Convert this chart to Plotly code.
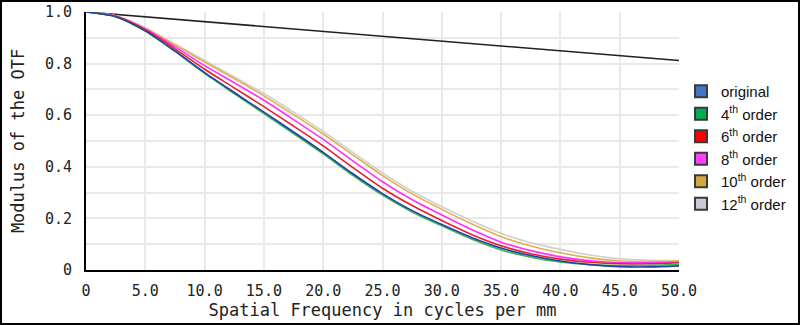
import plotly.graph_objects as go

# ---- data ----
freq = [0, 2.5, 5, 7.5, 10, 12.5, 15, 17.5, 20, 22.5, 25, 27.5, 30, 32.5, 35, 37.5, 40, 42.5, 45, 47.5, 50]
original = [1.0, 0.982, 0.927, 0.849, 0.765, 0.688, 0.612, 0.535, 0.456, 0.373, 0.296, 0.230, 0.176, 0.126, 0.085, 0.056, 0.035, 0.021, 0.013, 0.012, 0.016]
order4 = [1.0, 0.982, 0.926, 0.847, 0.762, 0.684, 0.606, 0.529, 0.450, 0.367, 0.290, 0.225, 0.171, 0.120, 0.078, 0.050, 0.031, 0.021, 0.017, 0.018, 0.022]
order6 = [1.0, 0.983, 0.931, 0.857, 0.778, 0.706, 0.633, 0.558, 0.481, 0.397, 0.317, 0.250, 0.192, 0.138, 0.094, 0.063, 0.042, 0.030, 0.024, 0.024, 0.028]
order8 = [1.0, 0.984, 0.934, 0.865, 0.792, 0.726, 0.658, 0.583, 0.506, 0.423, 0.342, 0.272, 0.213, 0.157, 0.108, 0.075, 0.051, 0.036, 0.028, 0.028, 0.030]
order10 = [1.0, 0.985, 0.937, 0.872, 0.806, 0.742, 0.675, 0.602, 0.527, 0.446, 0.366, 0.295, 0.235, 0.179, 0.129, 0.093, 0.067, 0.047, 0.035, 0.033, 0.034]
order12 = [1.0, 0.985, 0.938, 0.876, 0.812, 0.749, 0.684, 0.612, 0.537, 0.456, 0.376, 0.305, 0.245, 0.191, 0.142, 0.106, 0.080, 0.058, 0.043, 0.038, 0.037]
diff_freq = [0, 25, 50]
diff_limit = [1.0, 0.905, 0.812]

series_names = ["original", "4<sup>th</sup> order", "6<sup>th</sup> order",
                "8<sup>th</sup> order", "10<sup>th</sup> order", "12<sup>th</sup> order"]
series_values = [original, order4, order6, order8, order10, order12]
line_colors = ["#1f3fa8", "#3cb44b", "#e8202a", "#ff30ff", "#e2b04a", "#cfcfcf"]
legend_colors = ["#4472c4", "#00b050", "#ff0000", "#ff40ff", "#d4a83a", "#c8ccd4"]

x_tickvals = [0, 5, 10, 15, 20, 25, 30, 35, 40, 45, 50]
x_ticktext = ["0", "5.0", "10.0", "15.0", "20.0", "25.0", "30.0", "35.0", "40.0", "45.0", "50.0"]
y_tickvals = [0, 0.2, 0.4, 0.6, 0.8, 1.0]
y_ticktext = ["0", "0.2", "0.4", "0.6", "0.8", "1.0"]
y_minor = [0.1, 0.3, 0.5, 0.7, 0.9]

# ---- figure ----
W, H = 800, 325
ML, MR, MT, MB = 86, 121, 12, 55

fig = go.Figure()

fig.add_trace(go.Scatter(x=diff_freq, y=diff_limit, mode="lines",
                         line=dict(color="#202020", width=1.6),
                         showlegend=False, hoverinfo="skip"))

order_draw = [5, 4, 3, 2, 1, 0]
for i in order_draw:
    fig.add_trace(go.Scatter(x=freq, y=series_values[i], mode="lines",
                             line=dict(color=line_colors[i], width=1.6, shape="spline", smoothing=0.7),
                             showlegend=False))

for name, c in zip(series_names, legend_colors):
    fig.add_trace(go.Scatter(x=[None], y=[None], mode="markers", name=name,
                             marker=dict(symbol="square", size=10, color=c,
                                         line=dict(color="#3a3a3a", width=1))))

mono = "DejaVu Sans Mono"
pw = W - ML - MR
ph = H - MT - MB

fig.update_layout(
    width=W, height=H,
    margin=dict(l=ML, r=MR, t=MT, b=MB, autoexpand=False),
    paper_bgcolor="white", plot_bgcolor="white",
    xaxis=dict(range=[0, 50], tickvals=x_tickvals, ticktext=x_ticktext,
               showgrid=True, gridcolor="#e9e9e9", gridwidth=2,
               showline=True, linecolor="black", linewidth=2,
               ticks="outside", ticklen=6, tickcolor="rgba(0,0,0,0)",
               tickfont=dict(family=mono, size=15, color="#222"),
               title=dict(text="Spatial Frequency in cycles per mm",
                          font=dict(family=mono, size=17, color="#222"), standoff=3),
               zeroline=False),
    yaxis=dict(range=[0, 1.0], tickvals=y_tickvals, ticktext=y_ticktext,
               showgrid=True, gridcolor="#e9e9e9", gridwidth=2,
               minor=dict(tickvals=y_minor, showgrid=True,
                          gridcolor="#e9e9e9", gridwidth=2),
               showline=True, linecolor="black", linewidth=2,
               ticks="outside", ticklen=9, tickcolor="rgba(0,0,0,0)",
               tickfont=dict(family=mono, size=15, color="#222"),
               title=dict(text="Modulus of the OTF",
                          font=dict(family=mono, size=17, color="#222"), standoff=16),
               zeroline=False),
    legend=dict(x=(681 - ML) / pw, y=(270 - 75) / ph, xanchor="left", yanchor="top",
                font=dict(family="Liberation Sans", size=15, color="#111"),
                bgcolor="rgba(0,0,0,0)", tracegroupgap=0, itemsizing="constant"),
    shapes=[dict(type="rect", xref="paper", yref="paper",
                 x0=(1 - ML) / pw, x1=(W - 1 - ML) / pw,
                 y0=(H - MB - (H - 1)) / ph, y1=(H - MB - 1) / ph,
                 line=dict(color="black", width=2))],
)

fig.write_html("out.html")
